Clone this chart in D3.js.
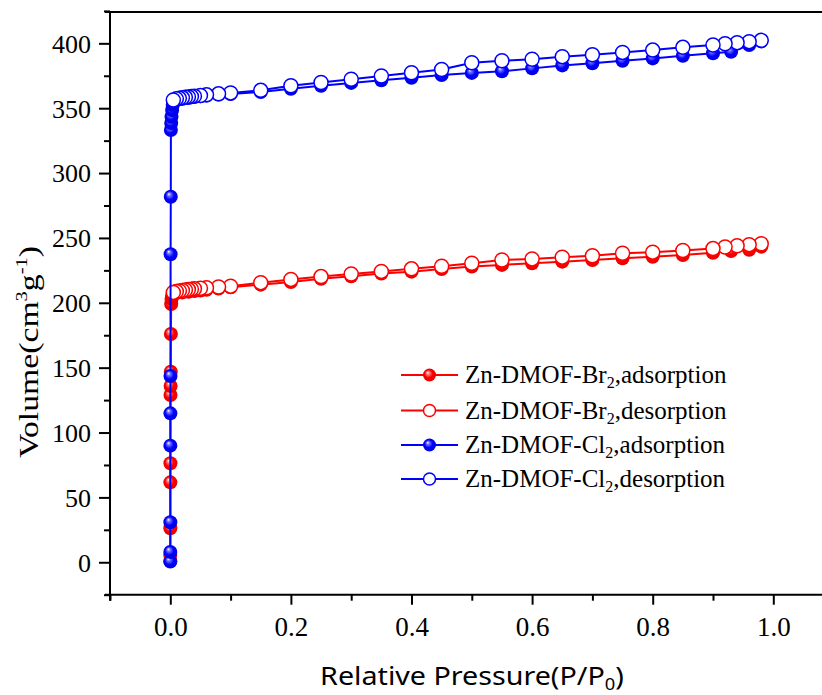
<!DOCTYPE html>
<html><head><meta charset="utf-8">
<script src="https://cdn.jsdelivr.net/npm/d3@7"></script>
<style>html,body{margin:0;padding:0;background:#fff;} svg{display:block}
.serif{font-family:"Liberation Serif","Tinos","Times New Roman","DejaVu Serif",serif;}
.sans{font-family:"Noto Sans","DejaVu Sans",sans-serif;}
</style>
</head><body>
<svg id="chart" width="822" height="695"></svg>
<script>
// ---------- data ----------
const brAdsP = [0.00001,0.00003,0.00006,0.0001,0.0002,0.0003,0.0005,0.0008,0.001,0.0015,0.002,0.003,0.005,0.01,0.02,0.03,0.04,0.05,0.06,0.08,0.1,0.15,0.2,0.25,0.3,0.35,0.4,0.45,0.5,0.55,0.6,0.65,0.7,0.75,0.8,0.85,0.9,0.93,0.96,0.98];
const brAdsV = [1,5.6,26.2,61.6,76.3,128.9,135.9,146.9,176,199,203,205.5,206.5,207.5,208,208.5,209,209.5,210,211,212,214,216,218.5,220.5,222.5,224,226,228,229.2,230.4,231.7,233,234.3,235.5,236.8,238.6,239.9,240.9,243.3];

const brDesP = [0.98,0.96,0.94,0.92,0.9,0.85,0.8,0.75,0.7,0.65,0.6,0.55,0.5,0.45,0.4,0.35,0.3,0.25,0.2,0.15,0.1,0.08,0.06,0.05,0.04,0.035,0.03,0.025,0.02,0.015,0.01,0.005];
const brDesV = [245.5,244.8,244,243,241.8,240.3,239,238.2,236.3,235.2,233.8,233,230.5,228.2,226.2,224.2,222.2,220.2,218,215.5,212.8,212.2,211.6,211.2,210.8,210.5,210.2,209.9,209.5,209.1,208.7,208];

const clAdsP = [0.00001,0.00003,0.00006,0.0001,0.0002,0.0003,0.0005,0.0008,0.001,0.0015,0.002,0.003,0.004,0.005,0.01,0.02,0.03,0.04,0.05,0.06,0.08,0.1,0.15,0.2,0.25,0.3,0.35,0.4,0.45,0.5,0.55,0.6,0.65,0.7,0.75,0.8,0.85,0.9,0.93,0.96,0.98];
const clAdsV = [0.5,8,30.8,89.9,114.8,143.6,237.4,281.8,333.2,338.6,343.4,348.6,352.5,354.5,356,357.3,358,358.7,359.3,359.8,360.5,361,362.5,365,367.3,369.5,371.5,373.5,375.5,377.2,378.5,380.7,383,384.6,386.6,388.4,390.4,392.3,393.5,398.7,401.5];

const clDesP = [0.98,0.96,0.94,0.92,0.9,0.85,0.8,0.75,0.7,0.65,0.6,0.55,0.5,0.45,0.4,0.35,0.3,0.25,0.2,0.15,0.1,0.08,0.06,0.05,0.04,0.035,0.03,0.025,0.02,0.015,0.01,0.005];
const clDesV = [402.3,401.3,400.5,399.7,398.7,396.9,394.8,393,391.2,389.7,387.7,386.6,385,379.8,377.3,374.8,372.3,369.8,367.3,363.8,361.8,361.1,360.3,359.8,359.3,359,358.7,358.4,358,357.6,357.2,356.3];

const xTicks = [0, 0.2, 0.4, 0.6, 0.8, 1.0];
const xMinorTicks = [-0.1, 0.1, 0.3, 0.5, 0.7, 0.9, 1.1];
const yTicks = [0, 50, 100, 150, 200, 250, 300, 350, 400];
const yMinorTicks = [-25, 25, 75, 125, 175, 225, 275, 325, 375, 425];

const seriesNames = ["Br", "Br", "Cl", "Cl"];
const seriesKinds = ["adsorption", "desorption", "adsorption", "desorption"];
const seriesColors = ["#ff0000", "#ff0000", "#0000ff", "#0000ff"];

// ---------- setup ----------
const svg = d3.select("#chart");
const x = d3.scaleLinear().domain([-0.1, 1.1]).range([110, 833.6]);
const y = d3.scaleLinear().domain([-25, 425]).range([594.7, 10.9]);

const defs = svg.append("defs");
function grad(id, main, light, dark) {
  const g = defs.append("radialGradient").attr("id", id)
    .attr("cx", "50%").attr("cy", "50%").attr("r", "55%")
    .attr("fx", "35%").attr("fy", "30%");
  g.append("stop").attr("offset", "0%").attr("stop-color", "#ffffff");
  g.append("stop").attr("offset", "22%").attr("stop-color", light);
  g.append("stop").attr("offset", "55%").attr("stop-color", main);
  g.append("stop").attr("offset", "100%").attr("stop-color", dark);
}
grad("gRed", "#ff0000", "#ff8080", "#e00000");
grad("gBlue", "#0000ff", "#7070ff", "#0000d8");

const series = [
  {P: brAdsP, V: brAdsV}, {P: brDesP, V: brDesV},
  {P: clAdsP, V: clAdsV}, {P: clDesP, V: clDesV}
].map((s, i) => ({
  pts: s.P.map((p, j) => ({p, v: s.V[j]})),
  color: seriesColors[i],
  filled: seriesKinds[i] === "adsorption",
  gradId: seriesNames[i] === "Br" ? "gRed" : "gBlue",
  label: ["Zn-DMOF-", seriesNames[i] === "Br" ? "Br" : "Cl", "2", "," + seriesKinds[i]]
}));

// ---------- axes ----------
const axisG = svg.append("g");
const xAx = axisG.append("g").attr("transform", `translate(0,${y(-25)})`)
  .call(d3.axisBottom(x).tickValues(xTicks).tickFormat(d3.format(".1f")).tickSize(10).tickPadding(12));
axisG.append("g").attr("transform", `translate(0,${y(-25)})`)
  .call(d3.axisBottom(x).tickValues(xMinorTicks).tickFormat("").tickSize(6));
const yAx = axisG.append("g").attr("transform", `translate(${x(-0.1)},0)`)
  .call(d3.axisLeft(y).tickValues(yTicks).tickSize(11).tickPadding(8));
axisG.append("g").attr("transform", `translate(${x(-0.1)},0)`)
  .call(d3.axisLeft(y).tickValues(yMinorTicks).tickFormat("").tickSize(6));
axisG.selectAll("g").attr("font-family", null);
axisG.selectAll(".domain").remove();
axisG.selectAll(".tick line").attr("stroke", "#000").attr("stroke-width", 2);
xAx.selectAll("text").attr("class", "serif").attr("font-size", 27).attr("fill", "#000");
yAx.selectAll("text").attr("class", "serif").attr("font-size", 26).attr("fill", "#000").attr("dy", "0.34em");

// frame lines (left, bottom, top), extending slightly like the original
const frame = svg.append("g").attr("stroke", "#000").attr("stroke-width", 2);
frame.append("line").attr("x1", x(-0.1)).attr("x2", x(-0.1)).attr("y1", y(425) + 1).attr("y2", y(-25) + 6);
frame.append("line").attr("x1", x(-0.1) - 5).attr("x2", 822).attr("y1", y(-25)).attr("y2", y(-25));
frame.append("line").attr("x1", x(-0.1) - 5).attr("x2", 822).attr("y1", y(425) + 1).attr("y2", y(425) + 1);

// ---------- series ----------
const line = d3.line().x(d => x(d.p)).y(d => y(d.v));
series.forEach(s => {
  const g = svg.append("g");
  g.append("path").datum(s.pts).attr("d", line)
    .attr("fill", "none").attr("stroke", s.color).attr("stroke-width", 2);
  g.selectAll("circle").data(s.pts).join("circle")
    .attr("cx", d => x(d.p)).attr("cy", d => y(d.v)).attr("r", 7)
    .attr("fill", s.filled ? `url(#${s.gradId})` : "#fff")
    .attr("stroke", s.filled ? "none" : s.color)
    .attr("stroke-width", s.filled ? 0 : 1.5);
});

// ---------- legend ----------
const legRows = [375, 410.5, 445, 479];
const leg = svg.append("g");
series.forEach((s, i) => {
  const ry = legRows[i];
  leg.append("line").attr("x1", 401).attr("x2", 458).attr("y1", ry).attr("y2", ry)
    .attr("stroke", s.color).attr("stroke-width", 2);
  leg.append("circle").attr("cx", 429.5).attr("cy", ry).attr("r", s.filled ? 6.5 : 6)
    .attr("fill", s.filled ? `url(#${s.gradId})` : "#fff")
    .attr("stroke", s.filled ? "none" : s.color).attr("stroke-width", 1.5);
  const t = leg.append("text").attr("class", "serif").attr("x", 465).attr("y", ry + 8)
    .attr("font-size", 25).attr("fill", "#000");
  t.append("tspan").text(s.label[0] + s.label[1]);
  t.append("tspan").attr("font-size", 16).attr("dy", 5).text(s.label[2]);
  t.append("tspan").attr("dy", -5).text(s.label[3]);
});

// ---------- axis titles ----------
function fitX(textSel, targetW) {
  const w = textSel.node().getBBox().width;
  return targetW / w;
}
// y title
const yt = svg.append("g").attr("transform", "translate(38,352) rotate(-90)");
const ytText = yt.append("text").attr("class", "serif").attr("text-anchor", "middle")
  .attr("font-size", 28).attr("fill", "#000");
ytText.append("tspan").text("Volume(cm");
ytText.append("tspan").attr("font-size", 17).attr("dy", -11).text("3");
ytText.append("tspan").attr("dy", 11).text("g");
ytText.append("tspan").attr("font-size", 17).attr("dy", -11).text("-1");
ytText.append("tspan").attr("dy", 11).text(")");
const sy = fitX(ytText, 212);
ytText.attr("transform", `scale(${sy},1)`);

// x title
const xt = svg.append("g").attr("transform", "translate(472,685)");
const xtText = xt.append("text").attr("class", "sans").attr("text-anchor", "middle")
  .attr("font-size", 25).attr("fill", "#000");
xtText.append("tspan").text("Relative Pressure(P/P");
xtText.append("tspan").attr("font-size", 16).attr("dy", 5).text("0");
xtText.append("tspan").attr("dy", -5).text(")");
const sx = fitX(xtText, 304);
xtText.attr("transform", `scale(${sx},1)`);
</script>
</body></html>
